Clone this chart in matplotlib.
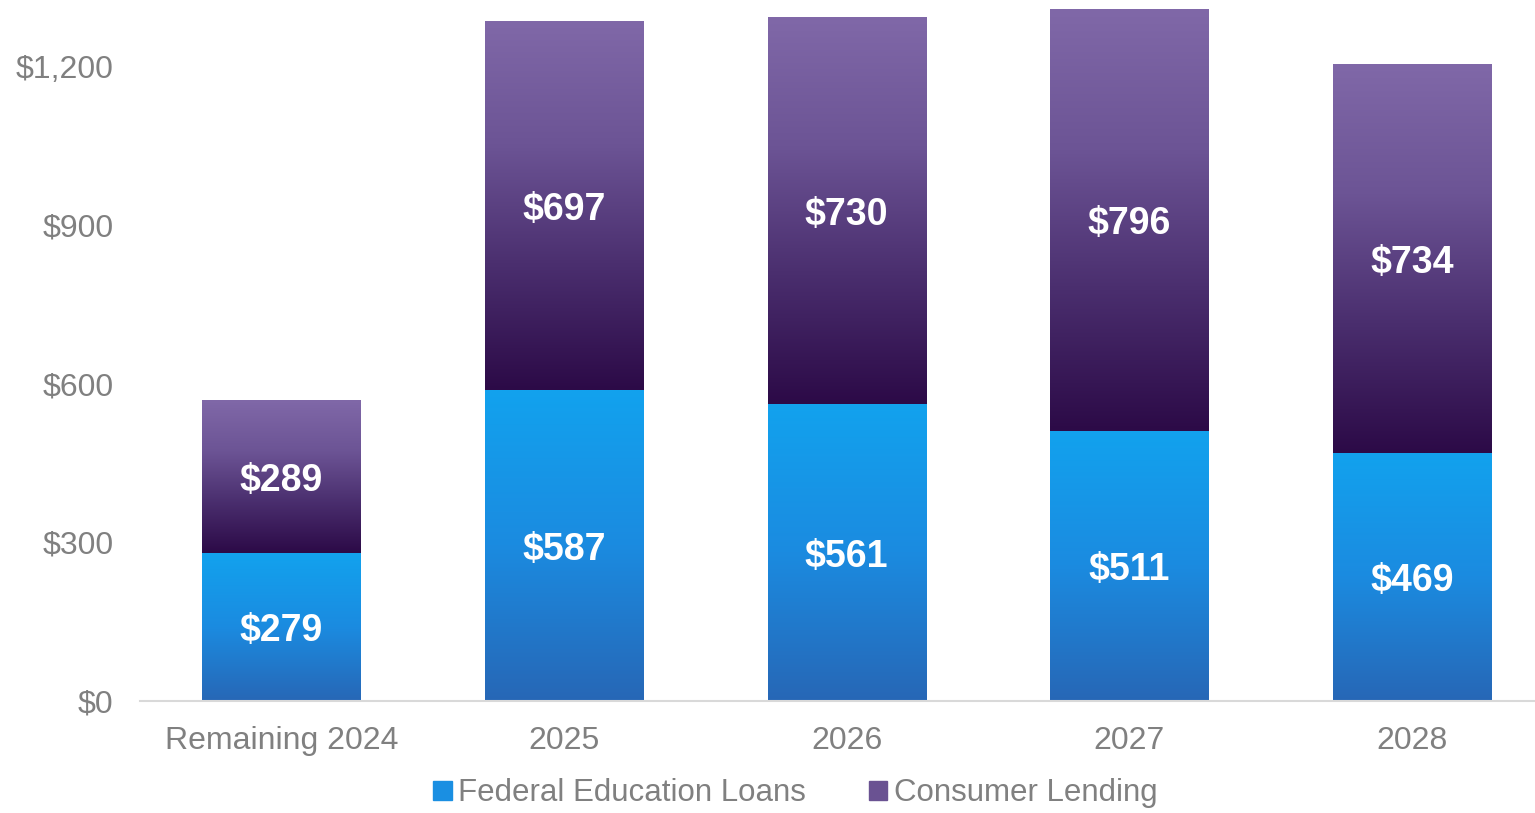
import numpy as np
from matplotlib import pyplot as plt
from matplotlib.colors import LinearSegmentedColormap
from matplotlib.patches import Patch

categories = ['Remaining 2024', '2025', '2026', '2027', '2028']
federal = [279, 587, 561, 511, 469]
consumer = [289, 697, 730, 796, 734]
yticks = [0, 300, 600, 900, 1200]
ytick_labels = ['$0', '$300', '$600', '$900', '$1,200']

plt.rcParams['font.family'] = ['Liberation Sans', 'DejaVu Sans']

blue_cmap = LinearSegmentedColormap.from_list('blue', ['#2767b6', '#1b8be0', '#12a2ee'])
purple_cmap = LinearSegmentedColormap.from_list('purple', ['#2c0a47', '#4a2e6e', '#6c5495', '#8068a8'])

fig = plt.figure(figsize=(15.35, 8.13), dpi=100)
ax = fig.add_axes([140 / 1535, 112 / 813, 1395 / 1535, 701 / 813])

w = 0.56
grad = np.linspace(0, 1, 256).reshape(-1, 1)
x = np.arange(len(categories))
for i in x:
    b, c = federal[i], consumer[i]
    ax.imshow(grad, cmap=blue_cmap, origin='lower', aspect='auto',
              extent=(i - w / 2, i + w / 2, 0, b), zorder=2)
    ax.imshow(grad, cmap=purple_cmap, origin='lower', aspect='auto',
              extent=(i - w / 2, i + w / 2, b, b + c), zorder=2)
    ax.text(i, b / 2 - 8, f'${b}', ha='center', va='center', color='white',
            fontsize=27, fontweight='bold', zorder=3)
    ax.text(i, b + c / 2 - 8, f'${c}', ha='center', va='center', color='white',
            fontsize=27, fontweight='bold', zorder=3)

ax.set_xlim(-0.5, 4.435)
ax.set_ylim(0, 1325)
ax.set_xticks(x)
ax.set_xticklabels(categories, fontsize=23, color='#808080')
ax.set_yticks(yticks)
ax.set_yticklabels(ytick_labels, fontsize=23, color='#808080')
ax.tick_params(axis='y', length=0, pad=19)
ax.tick_params(axis='x', length=0, pad=18)
for s in ['top', 'right', 'left']:
    ax.spines[s].set_visible(False)
ax.spines['bottom'].set_color('#d9d9d9')
ax.spines['bottom'].set_linewidth(1.5)

handles = [Patch(color='#1a8fe2', label='Federal Education Loans'),
           Patch(color='#6a5292', label='Consumer Lending')]
fig.legend(handles=handles, loc='center', bbox_to_anchor=(0.518, 0.024), ncol=2,
           frameon=False, fontsize=22.5, labelcolor='#808080', handlelength=0.6,
           handleheight=0.6, handletextpad=0.2, columnspacing=2.0)

fig.savefig('out.png', dpi=100)
